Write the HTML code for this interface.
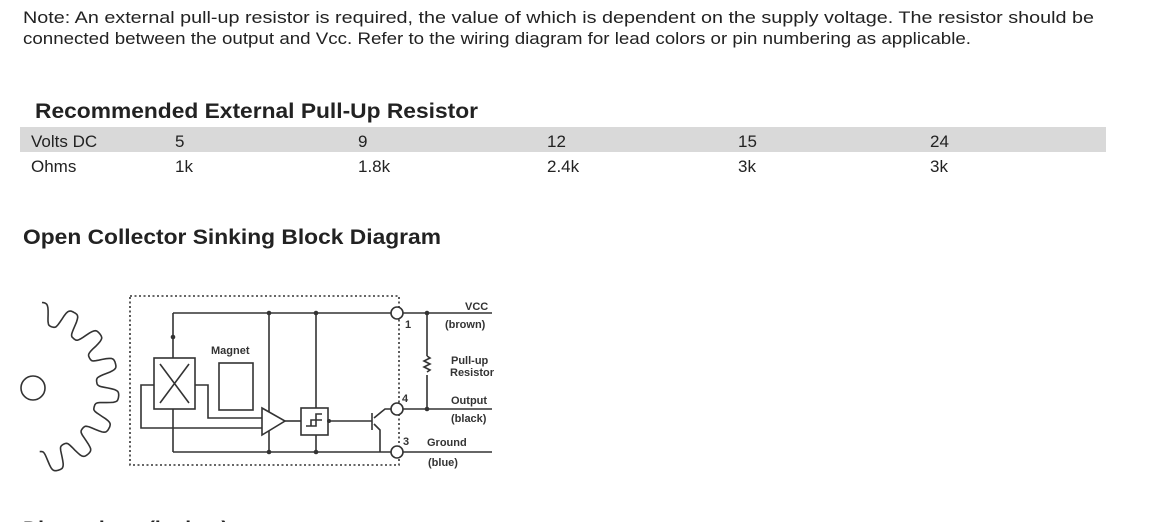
<!DOCTYPE html>
<html><head><meta charset="utf-8"><style>
html,body{margin:0;padding:0;background:#fff;}
svg{display:block;}
text{font-family:"Liberation Sans",Arial,sans-serif;fill:#222;}
.d text{font-weight:bold;font-size:11px;fill:#333;}
</style></head><body>
<svg width="1150" height="522" viewBox="0 0 1150 522" xmlns="http://www.w3.org/2000/svg">
<text x="23" y="23" font-size="16.5" textLength="1071" lengthAdjust="spacingAndGlyphs">Note: An external pull-up resistor is required, the value of which is dependent on the supply voltage.  The resistor should be</text>
<text x="23" y="44" font-size="16.5" textLength="948" lengthAdjust="spacingAndGlyphs">connected between the output and Vcc.  Refer to the wiring diagram for lead colors or pin numbering as applicable.</text>
<text x="35" y="118" font-size="21" font-weight="bold" textLength="443" lengthAdjust="spacingAndGlyphs">Recommended External Pull-Up Resistor</text>
<rect x="20" y="127" width="1086" height="25" fill="#d9d9d9"/>
<g font-size="17">
<text x="31" y="147">Volts DC</text><text x="175" y="147">5</text><text x="358" y="147">9</text><text x="547" y="147">12</text><text x="738" y="147">15</text><text x="930" y="147">24</text>
<text x="31" y="172">Ohms</text><text x="175" y="172">1k</text><text x="358" y="172">1.8k</text><text x="547" y="172">2.4k</text><text x="738" y="172">3k</text><text x="930" y="172">3k</text>
</g>
<text x="23" y="244" font-size="21" font-weight="bold" textLength="418" lengthAdjust="spacingAndGlyphs">Open Collector Sinking Block Diagram</text>
<text x="23" y="536" font-size="21" font-weight="bold">Dimensions          (inches)</text>

<g class="d" stroke="#333" stroke-width="1.6" fill="none">
<path id="gear" d=""/>
<circle cx="33" cy="388" r="12"/>
<rect x="130" y="296" width="269" height="169" stroke-dasharray="2,2.5" stroke-width="1.6"/>
<line x1="173" y1="313" x2="391" y2="313"/>
<line x1="403" y1="313" x2="492" y2="313"/>
<line x1="173" y1="313" x2="173" y2="358"/>
<line x1="173" y1="409" x2="173" y2="452"/>
<line x1="173" y1="452" x2="391" y2="452"/>
<line x1="403" y1="452" x2="492" y2="452"/>
<line x1="403" y1="409" x2="492" y2="409"/>
<rect x="154" y="358" width="41" height="51"/>
<line x1="160" y1="364" x2="189" y2="403"/><line x1="189" y1="364" x2="160" y2="403"/>
<rect x="219" y="363" width="34" height="47"/>
<path d="M154 385 H141 V428 H262"/>
<path d="M195 385 H208 V418 H262"/>
<path d="M262 408 L285 421 L262 435 Z"/>
<line x1="269" y1="313" x2="269" y2="412"/><line x1="269" y1="431" x2="269" y2="452"/>
<line x1="316" y1="313" x2="316" y2="408"/><line x1="316" y1="435" x2="316" y2="452"/>
<line x1="285" y1="421" x2="301" y2="421"/>
<rect x="301" y="408" width="27" height="27"/>
<path d="M306 426 H316 V414 H322 M311 426 V420 H322"/>
<line x1="328" y1="421" x2="372" y2="421"/>
<line x1="372" y1="413" x2="372" y2="430"/>
<path d="M374 418 L385 409 H391 M374 424 L380 430 V452"/>
<line x1="427" y1="313" x2="427" y2="356"/>
<path d="M427 356 l3 2 l-6 3 l6 3 l-6 3 l6 3 l-3 2"/>
<line x1="427" y1="375" x2="427" y2="409"/>
<circle cx="397" cy="313" r="6" fill="#fff"/><circle cx="397" cy="409" r="6" fill="#fff"/><circle cx="397" cy="452" r="6" fill="#fff"/>
<g fill="#333" stroke="none">
<circle cx="173" cy="337" r="2.3"/><circle cx="269" cy="313" r="2.3"/><circle cx="316" cy="313" r="2.3"/><circle cx="269" cy="452" r="2.3"/><circle cx="316" cy="452" r="2.3"/><circle cx="427" cy="313" r="2.3"/><circle cx="427" cy="409" r="2.3"/><circle cx="329" cy="421" r="2"/>
</g>
</g>
<g class="d">
<text x="211" y="354">Magnet</text>
<text x="465" y="310">VCC</text><text x="445" y="328">(brown)</text>
<text x="451" y="364">Pull-up</text><text x="450" y="376">Resistor</text>
<text x="451" y="404">Output</text><text x="451" y="422">(black)</text>
<text x="427" y="446">Ground</text><text x="428" y="466">(blue)</text>
<text x="405" y="328">1</text><text x="402" y="402">4</text><text x="403" y="445">3</text>
</g>
<script>
(function(){var cx=33,cy=388,R=86,r=64,n=7.5,a0=6,a1=174,d="",steps=300;
for(var i=0;i<=steps;i++){var t=i/steps,a=(a0+(a1-a0)*t)*Math.PI/180;var ph=t*n*2*Math.PI;var rr=(R+r)/2+(R-r)/2*Math.tanh(2.2*Math.cos(ph))/Math.tanh(2.2);
var x=cx+rr*Math.sin(a),y=cy-rr*Math.cos(a);d+=(i?"L":"M")+x.toFixed(1)+" "+y.toFixed(1);}
document.getElementById("gear").setAttribute("d",d);})();
</script>
</svg>
</body></html>
